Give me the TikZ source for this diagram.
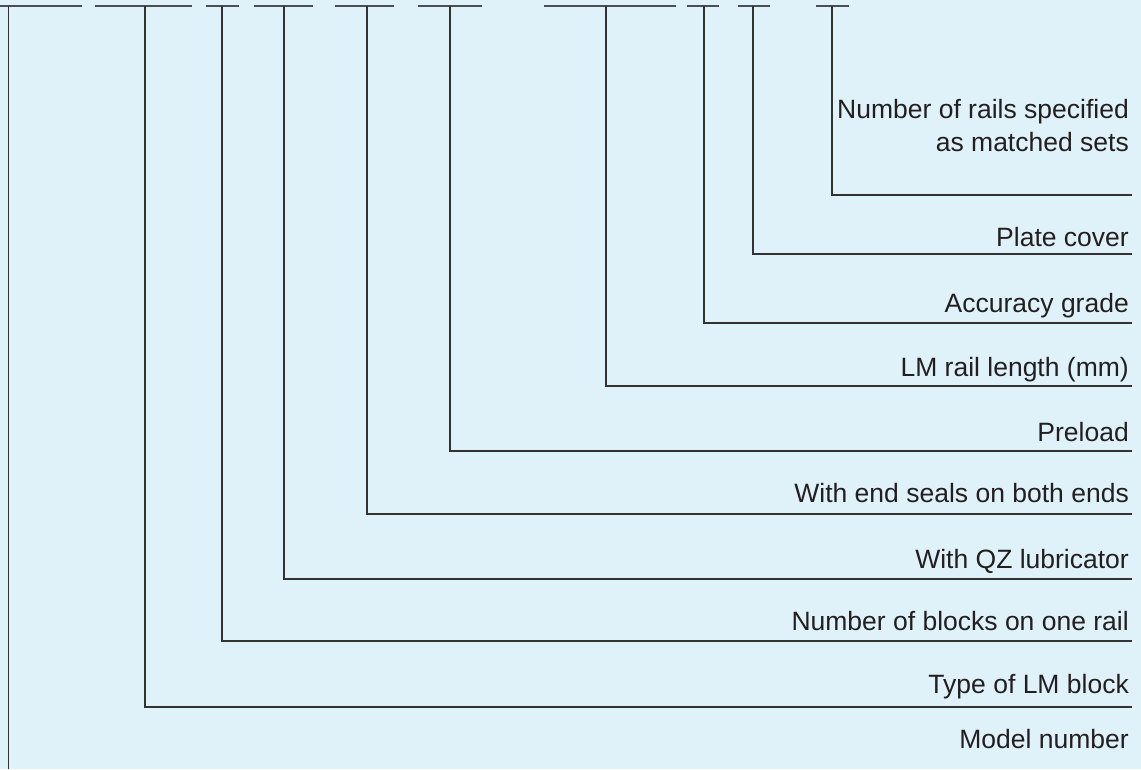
\documentclass[tikz,border=0pt]{standalone}
\usepackage{fontspec}
\setmainfont{Liberation Sans}
\definecolor{bg}{HTML}{DFF2FA}
\definecolor{ln}{HTML}{333333}
\definecolor{barc}{HTML}{4A4F55}
\definecolor{tx}{HTML}{231F20}
\begin{document}
\begin{tikzpicture}[x=1pt,y=-1pt,
  lbl/.style={anchor=base east, text=tx, font=\fontsize{26.5}{33}\selectfont, inner sep=0pt},
  leader/.style={draw=ln, line width=1.3pt},
  bar/.style={draw=barc, line width=2pt}]
\fill[bg] (0,0) rectangle (1141,769);
\useasboundingbox (0,0) rectangle (1141,769);

% top bars
\foreach \a/\b in {0/82,95/192,206/239,254/313,335/394,418/482,544/676,687/719,738/770,816/849}
  \draw[bar] (\a,6) -- (\b,6);

% top points
\coordinate (tModel) at (8.5,6);
\coordinate (tType) at (145,6);
\coordinate (tBlocks) at (222,6);
\coordinate (tQZ) at (284,6);
\coordinate (tSeals) at (367,6);
\coordinate (tPre) at (450,6);
\coordinate (tLen) at (606,6);
\coordinate (tAcc) at (704,6);
\coordinate (tPlate) at (753,6);
\coordinate (tRails) at (832,6);

% end points
\coordinate (eModel) at (8.5,769);
\coordinate (eType) at (1132,707);
\coordinate (eBlocks) at (1132,641);
\coordinate (eQZ) at (1132,579);
\coordinate (eSeals) at (1132,514);
\coordinate (ePre) at (1132,451);
\coordinate (eLen) at (1132,386);
\coordinate (eAcc) at (1132,323);
\coordinate (ePlate) at (1132,254);
\coordinate (eRails) at (1132,195);

\draw[leader] (tModel) -- (eModel);
\foreach \n in {Type,Blocks,QZ,Seals,Pre,Len,Acc,Plate,Rails}
  \draw[leader] (t\n) |- (e\n);

% labels
\node[lbl] (lRails1) at (1129,118) {Number of rails specified};
\node[lbl] (lRails2) at (1129,151) {as matched sets};
\node[lbl] (lPlate) at (1129,246) {Plate cover};
\node[lbl] (lAcc) at (1129,312) {Accuracy grade};
\node[lbl] (lLen) at (1129,376) {LM rail length (mm)};
\node[lbl] (lPre) at (1129,441) {Preload};
\node[lbl] (lSeals) at (1129,502) {With end seals on both ends};
\node[lbl] (lQZ) at (1129,568) {With QZ lubricator};
\node[lbl] (lBlocks) at (1129,630) {Number of blocks on one rail};
\node[lbl] (lType) at (1129,693) {Type of LM block};
\node[lbl] (lModel) at (1129,748) {Model number};
\end{tikzpicture}
\end{document}
